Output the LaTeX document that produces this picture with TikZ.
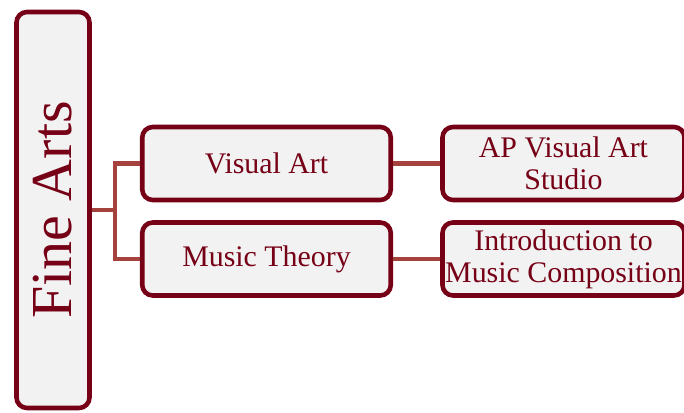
\documentclass[tikz,border=0pt]{standalone}
\usepackage{fontspec}
\setmainfont{Liberation Serif}
\usetikzlibrary{positioning,calc}
\definecolor{artsred}{RGB}{118,0,22}
\definecolor{linkred}{RGB}{165,66,62}
\definecolor{boxgray}{RGB}{242,242,242}

\begin{document}
\begin{tikzpicture}[
    box/.style={draw=artsred, line width=2.6pt, fill=boxgray, rounded corners=6pt,
        text=artsred, align=center, inner sep=0pt,
        font=\fontsize{17}{18.4}\selectfont},
    link/.style={draw=linkred, line width=2.6pt}
]
    \useasboundingbox (0,0) rectangle (13.68,-8.26);

    \node[box, minimum width=1.46cm, minimum height=7.92cm] (fine) at (1.06,-4.2) {};
    \node[artsred, rotate=90, font=\fontsize{33}{36}\selectfont] (finelabel) at (fine.center) {Fine Arts};

    \node[box, minimum width=4.97cm, minimum height=1.46cm] (visual) at (5.33,-3.27) {Visual Art};
    \node[box, minimum width=4.97cm, minimum height=1.46cm] (music) at (5.33,-5.18) {Music Theory};
    \node[box, minimum width=4.84cm, minimum height=1.46cm] (apvisual) at (11.27,-3.27) {AP Visual Art\\Studio};
    \node[box, minimum width=4.84cm, minimum height=1.46cm] (intro) at (11.27,-5.18) {Introduction to\\Music Composition};

    % tree links
    \coordinate (split) at (2.3,-4.2);
    \draw[link] (fine.east) -- (split);
    \draw[link] (split) |- (visual.west);
    \draw[link] (split) |- (music.west);
    \draw[link] (visual) -- (apvisual);
    \draw[link] (music) -- (intro);
\end{tikzpicture}
\end{document}
